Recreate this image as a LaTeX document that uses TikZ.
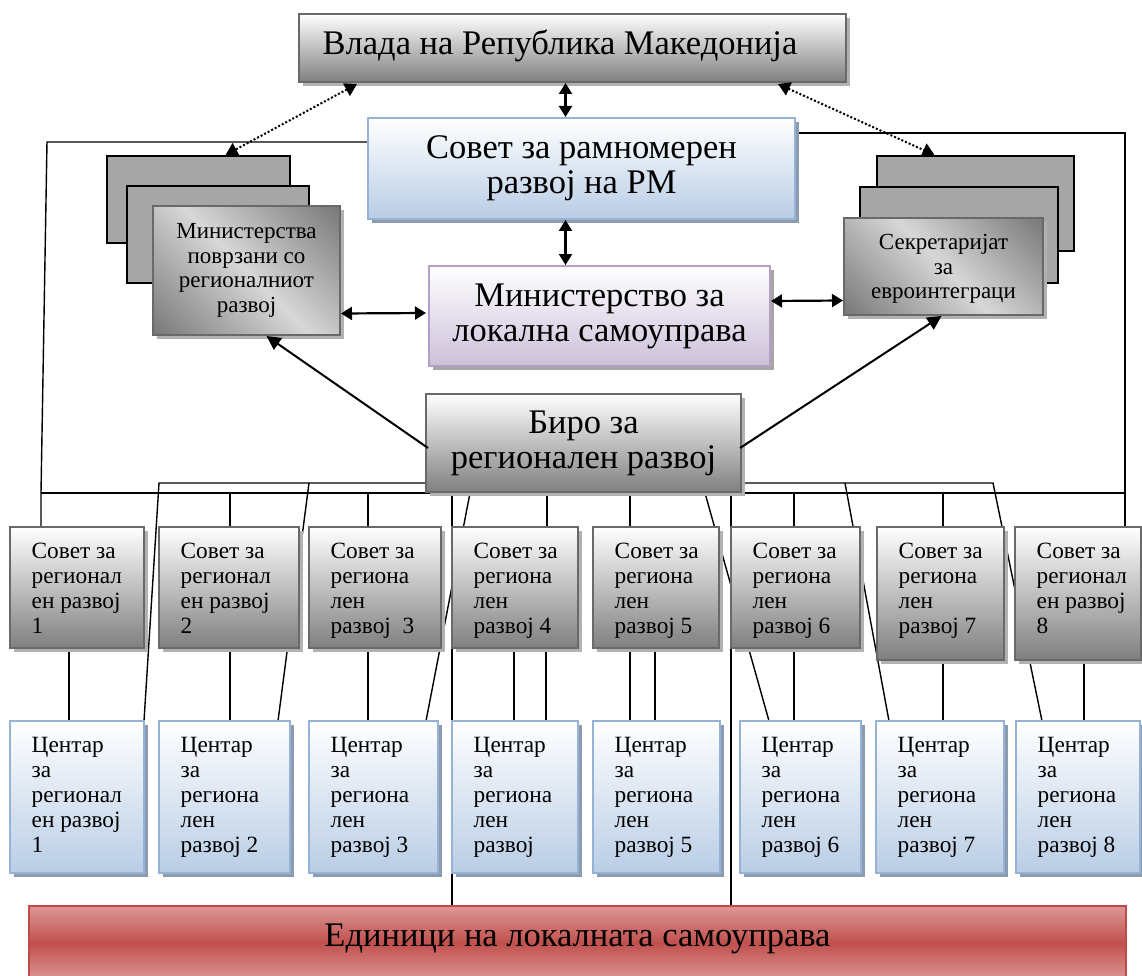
\documentclass[tikz,border=0pt]{standalone}
\usepackage{fontspec}
\setmainfont{Liberation Serif}
\usetikzlibrary{arrows.meta,shadows,calc,backgrounds}
\definecolor{grayborder}{RGB}{105,105,105}
\definecolor{bluefill}{RGB}{185,205,229}
\definecolor{blueborder}{RGB}{149,179,215}
\definecolor{blueshadow}{RGB}{140,155,175}
\definecolor{purplefill}{RGB}{204,192,218}
\definecolor{purpleborder}{RGB}{178,161,199}
\definecolor{redmid}{RGB}{192,80,77}
\definecolor{redlight}{RGB}{220,152,150}
\definecolor{redborder}{RGB}{190,75,72}
\definecolor{stackgray}{RGB}{166,166,166}
\definecolor{diagdark}{RGB}{80,80,80}
\definecolor{diaglight}{RGB}{215,215,215}
\pgfdeclarehorizontalshading{diaggray}{100bp}{color(0bp)=(diagdark); color(50bp)=(diaglight); color(100bp)=(diagdark)}
\tikzset{
  box/.style={rectangle, inner sep=0pt, outer sep=0pt},
  graybox/.style={box, draw=grayborder, line width=1.8pt, top color=white, bottom color=black!50,
    drop shadow={shadow xshift=4pt, shadow yshift=-4pt, fill=black!30, opacity=1}},
  bluebox/.style={box, draw=blueborder, line width=2pt, top color=white, bottom color=bluefill,
    drop shadow={shadow xshift=4pt, shadow yshift=-4pt, fill=blueshadow, opacity=1}},
  purplebox/.style={box, draw=purpleborder, line width=2pt, top color=white, bottom color=purplefill,
    drop shadow={shadow xshift=4pt, shadow yshift=-4pt, fill=black!35, opacity=1}},
  redbox/.style={box, draw=redborder, line width=2pt, top color=redlight, bottom color=redlight, middle color=redmid},
  stackbox/.style={box, draw=black, line width=1.2pt, fill=stackgray},
  diagbox/.style={box, draw=grayborder, line width=1.8pt, shading=diaggray, shading angle=45,
    drop shadow={shadow xshift=4pt, shadow yshift=-4pt, fill=black!30, opacity=1}},
  bigtxt/.style={font=\fontsize{34.5}{35}\selectfont, align=center},
  midtxt/.style={font=\fontsize{23}{24.5}\selectfont, align=center},
  smalltxt/.style={font=\fontsize{23.3}{25}\selectfont, align=left, anchor=north west, inner sep=0pt},
  conn/.style={line width=1.4pt, black},
  arr/.style={line width=2pt, black, -{Triangle[length=14pt,width=14pt]}},
  darr/.style={line width=2.2pt, black, {Triangle[length=11pt,width=13pt]}-{Triangle[length=11pt,width=13pt]}},
  dotarr/.style={line width=2pt, black, dotted, {Triangle[length=12pt,width=14pt]}-{Triangle[length=12pt,width=14pt]}},
}
\begin{document}
\begin{tikzpicture}[x=1pt,y=-1pt]
\useasboundingbox (0,0) rectangle (1142,976);
% ---------- upper boxes ----------
\node[graybox, minimum width=547pt, minimum height=68pt] (vlada) at (572.5,48) {};
\node[bigtxt] (vladat) at (560,46) {Влада на Република Македонија};
\node[bluebox, bigtxt, minimum width=427pt, minimum height=101pt] (sovetrm) at (581.5,168.5) {Совет за рамномерен\\развој на РМ};
\node[purplebox, bigtxt, minimum width=341pt, minimum height=100pt] (minlc) at (599.5,316) {Министерство за\\локална самоуправа};
\node[graybox, bigtxt, minimum width=315pt, minimum height=98pt] (biro) at (583.5,443) {Биро за\\регионален развој};
% left stack
\node[stackbox, minimum width=183pt, minimum height=87pt] (mb1) at (198.5,199.5) {};
\node[stackbox, minimum width=182pt, minimum height=97pt] (mb2) at (218,234.5) {};
\node[diagbox, midtxt, minimum width=187pt, minimum height=129pt] (mfront) at (246.5,270.5) {Министерства\\поврзани со\\регионалниот\\развој};
% right stack
\node[stackbox, minimum width=197pt, minimum height=95pt] (sb1) at (975.5,203.5) {};
\node[stackbox, minimum width=198pt, minimum height=96pt] (sb2) at (959,235) {};
\node[diagbox, midtxt, minimum width=199pt, minimum height=97pt] (sfront) at (943.5,266.5) {};
\node[midtxt] (sfrontt) at (943.5,269) {Секретаријат\\за\\евроинтеграци};
% ---------- councils ----------
\node[graybox, minimum width=134pt, minimum height=121pt] (s1) at (77,587.5) {};
\node[graybox, minimum width=140pt, minimum height=121pt] (s2) at (229,587.5) {};
\node[graybox, minimum width=132pt, minimum height=121pt] (s3) at (375,587.5) {};
\node[graybox, minimum width=126pt, minimum height=121pt] (s4) at (515,587.5) {};
\node[graybox, minimum width=126pt, minimum height=121pt] (s5) at (656,587.5) {};
\node[graybox, minimum width=129pt, minimum height=121pt] (s6) at (795.5,587.5) {};
\node[graybox, minimum width=127pt, minimum height=133pt] (s7) at (940.5,593.5) {};
\node[graybox, minimum width=126pt, minimum height=133pt] (s8) at (1078,593.5) {};
\node[smalltxt] (s1t) at ($(s1.north west)+(21.5,16)$) {Совет за\\регионал\\ен развој\\1};
\node[smalltxt] (s2t) at ($(s2.north west)+(21.5,16)$) {Совет за\\регионал\\ен развој\\2};
\node[smalltxt] (s3t) at ($(s3.north west)+(21.5,16)$) {Совет за\\региона\\лен\\развој~~3};
\node[smalltxt] (s4t) at ($(s4.north west)+(21.5,16)$) {Совет за\\региона\\лен\\развој 4};
\node[smalltxt] (s5t) at ($(s5.north west)+(21.5,16)$) {Совет за\\региона\\лен\\развој 5};
\node[smalltxt] (s6t) at ($(s6.north west)+(21.5,16)$) {Совет за\\региона\\лен\\развој 6};
\node[smalltxt] (s7t) at ($(s7.north west)+(21.5,16)$) {Совет за\\региона\\лен\\развој 7};
\node[smalltxt] (s8t) at ($(s8.north west)+(21.5,16)$) {Совет за\\регионал\\ен развој\\8};
% ---------- centres ----------
\node[bluebox, minimum width=134pt, minimum height=152pt] (c1) at (77,797) {};
\node[bluebox, minimum width=131pt, minimum height=152pt] (c2) at (224.5,797) {};
\node[bluebox, minimum width=129pt, minimum height=152pt] (c3) at (373.5,797) {};
\node[bluebox, minimum width=126pt, minimum height=152pt] (c4) at (515,797) {};
\node[bluebox, minimum width=127pt, minimum height=152pt] (c5) at (656.5,797) {};
\node[bluebox, minimum width=121pt, minimum height=152pt] (c6) at (800.5,797) {};
\node[bluebox, minimum width=128pt, minimum height=152pt] (c7) at (940,797) {};
\node[bluebox, minimum width=124pt, minimum height=152pt] (c8) at (1078,797) {};
\node[smalltxt] (c1t) at ($(c1.north west)+(21.5,16)$) {Центар\\за\\регионал\\ен развој\\1};
\node[smalltxt] (c2t) at ($(c2.north west)+(21.5,16)$) {Центар\\за\\региона\\лен\\развој 2};
\node[smalltxt] (c3t) at ($(c3.north west)+(21.5,16)$) {Центар\\за\\региона\\лен\\развој 3};
\node[smalltxt] (c4t) at ($(c4.north west)+(21.5,16)$) {Центар\\за\\региона\\лен\\развој};
\node[smalltxt] (c5t) at ($(c5.north west)+(21.5,16)$) {Центар\\за\\региона\\лен\\развој 5};
\node[smalltxt] (c6t) at ($(c6.north west)+(21.5,16)$) {Центар\\за\\региона\\лен\\развој 6};
\node[smalltxt] (c7t) at ($(c7.north west)+(21.5,16)$) {Центар\\за\\региона\\лен\\развој 7};
\node[smalltxt] (c8t) at ($(c8.north west)+(21.5,16)$) {Центар\\за\\региона\\лен\\развој 8};
% ---------- local self-government ----------
\node[redbox, minimum width=1097pt, minimum height=74pt] (units) at (577.5,943) {};
\node[font=\fontsize{34.5}{35}\selectfont] (unitst) at (577.5,939) {Единици на локалната самоуправа};
% ---------- connectors behind the boxes ----------
\begin{scope}[on background layer]
\coordinate (fL) at (47,142);
\coordinate (fR) at (1125,133);
\coordinate (busL) at (41,493);
\coordinate (busR) at (1125,493);
\draw[conn] ($(sovetrm.north west)+(0,24)$) -- (fL) -- (busL) -- (busL |- s1.north);
\draw[conn] ($(sovetrm.north east)+(0,15)$) -- (fR) -- (busR |- s8.north);
\draw[conn] (busL) -- (busR);
\foreach \x/\s in {230/s2, 368/s3, 547/s4, 630/s5, 794/s6, 943/s7}
  \draw[conn] (\x,493) coordinate (drop\s) -- (drop\s |- \s.north);
% council -> centre
\foreach \x/\s/\c in {69/s1/c1, 230/s2/c2, 368/s3/c3, 514/s4/c4, 546/s4/c4, 630/s5/c5, 655/s5/c5, 794/s6/c6, 943/s7/c7, 1084/s8/c8}
  \draw[conn] (\x,600) coordinate (v\x) (v\x |- \s.south) -- (v\x |- \c.north);
% slanted and long lines from the bureau
\coordinate (hL1) at (159,483);
\coordinate (hL2) at (309,483);
\coordinate (hR1) at (845,483);
\coordinate (hR2) at (993,483);
\draw[conn] (biro.west |- hL1) -- (hL1) -- (c1.north east);
\draw[conn] (hL2) -- ($(c2.north east)+(-12,0)$);
\draw[conn] (biro.east |- hR2) -- (hR2) -- ($(c8.north west)+(26,0)$);
\draw[conn] (hR1) -- ($(c7.north west)+(13,0)$);
\draw[conn] (470,493) coordinate (bs1) -- ($(c3.north east)+(-12,0)$);
\draw[conn] (452,493) coordinate (bs2) -- (bs2 |- units.north);
\draw[conn] (731,493) coordinate (bs3) -- (bs3 |- units.north);
\draw[conn] (705,493) coordinate (bs4) -- ($(c6.north west)+(29,0)$);
\end{scope}
% ---------- arrows ----------
\draw[darr] ($(vlada.south)+(-7,1)$) -- ($(sovetrm.north)+(-16,-1)$);
\draw[darr] ($(sovetrm.south)+(-16,1)$) -- ($(minlc.north)+(-34,-1)$);
\draw[darr] ($(mfront.east)+(1,43)$) -- ($(minlc.west)+(-3,-3)$);
\draw[darr] ($(minlc.east)+(1,-15)$) -- ($(sfront.west)+(-1,34)$);
\draw[arr] ($(biro.west)+(2,5)$) -- ($(mfront.south)+(20,1)$);
\draw[arr] ($(biro.east)+(-1,5)$) -- ($(sfront.south)+(-2,1)$);
\draw[dotarr] ($(vlada.south west)+(58,2)$) -- ($(mb1.north)+(27,-1)$);
\draw[dotarr] ($(vlada.south east)+(-68,2)$) -- ($(sb1.north)+(-41,-1)$);
\end{tikzpicture}
\end{document}
